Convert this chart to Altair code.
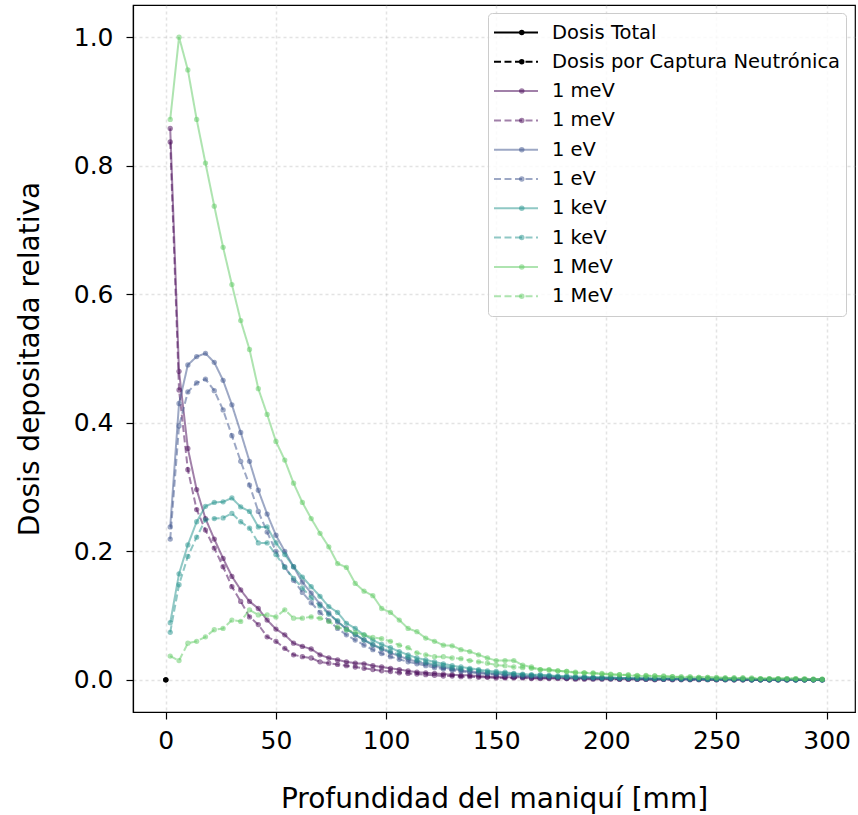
import altair as alt
import pandas as pd

depth_mm = [2, 6, 10, 14, 18, 22, 26, 30, 34, 38,
            42, 46, 50, 54, 58, 62, 66, 70, 74, 78,
            82, 86, 90, 94, 98, 102, 106, 110, 114, 118,
            122, 126, 130, 134, 138, 142, 146, 150, 154, 158,
            162, 166, 170, 174, 178, 182, 186, 190, 194, 198,
            202, 206, 210, 214, 218, 222, 226, 230, 234, 238,
            242, 246, 250, 254, 258, 262, 266, 270, 274, 278,
            282, 286, 290, 294, 298]

mev1_total = [0.858, 0.480, 0.360, 0.296, 0.251, 0.219, 0.189, 0.161, 0.140, 0.122,
              0.111, 0.093, 0.079, 0.070, 0.057, 0.052, 0.048, 0.039, 0.034, 0.031,
              0.028, 0.026, 0.025, 0.022, 0.020, 0.018, 0.016, 0.014, 0.012, 0.011,
              0.010, 0.009, 0.008, 0.007, 0.007, 0.006, 0.005, 0.005, 0.004, 0.004,
              0.004, 0.003, 0.003, 0.003, 0.003, 0.002, 0.002, 0.002, 0.002, 0.002,
              0.002, 0.001, 0.001, 0.001, 0.001, 0.001, 0.001, 0.001, 0.001, 0.001,
              0.001, 0.001, 0.000, 0.001, 0.000, 0.000, 0.000, 0.000, 0.000, 0.000,
              0.000, 0.000, 0.000, 0.000, 0.000]
mev1_capture = [0.837, 0.451, 0.327, 0.265, 0.233, 0.205, 0.176, 0.145, 0.122, 0.098,
                0.086, 0.067, 0.060, 0.049, 0.039, 0.036, 0.034, 0.028, 0.026, 0.024,
                0.022, 0.020, 0.018, 0.016, 0.014, 0.013, 0.011, 0.010, 0.009, 0.008,
                0.007, 0.006, 0.006, 0.005, 0.005, 0.004, 0.004, 0.003, 0.003, 0.003,
                0.003, 0.002, 0.002, 0.002, 0.002, 0.002, 0.001, 0.001, 0.001, 0.001,
                0.001, 0.001, 0.001, 0.001, 0.001, 0.000, 0.001, 0.000, 0.000, 0.000,
                0.000, 0.000, 0.000, 0.000, 0.000, 0.000, 0.000, 0.000, 0.000, 0.000,
                0.000, 0.000, 0.000, 0.000, 0.000]
ev1_total = [0.238, 0.430, 0.490, 0.503, 0.508, 0.494, 0.466, 0.428, 0.385, 0.340,
             0.295, 0.258, 0.225, 0.200, 0.176, 0.152, 0.135, 0.118, 0.104, 0.090,
             0.080, 0.070, 0.062, 0.054, 0.048, 0.042, 0.037, 0.032, 0.028, 0.025,
             0.022, 0.019, 0.017, 0.015, 0.013, 0.012, 0.010, 0.009, 0.008, 0.007,
             0.006, 0.006, 0.005, 0.005, 0.004, 0.004, 0.003, 0.003, 0.003, 0.003,
             0.002, 0.002, 0.002, 0.002, 0.002, 0.001, 0.001, 0.001, 0.001, 0.001,
             0.001, 0.001, 0.001, 0.001, 0.001, 0.001, 0.000, 0.000, 0.000, 0.000,
             0.000, 0.000, 0.000, 0.000, 0.000]
ev1_capture = [0.219, 0.395, 0.448, 0.462, 0.468, 0.450, 0.420, 0.380, 0.340, 0.303,
               0.262, 0.230, 0.200, 0.176, 0.155, 0.136, 0.120, 0.105, 0.092, 0.080,
               0.070, 0.062, 0.054, 0.047, 0.041, 0.036, 0.032, 0.028, 0.025, 0.022,
               0.019, 0.017, 0.015, 0.013, 0.012, 0.010, 0.009, 0.008, 0.007, 0.006,
               0.005, 0.005, 0.004, 0.004, 0.004, 0.003, 0.003, 0.003, 0.002, 0.002,
               0.002, 0.002, 0.002, 0.001, 0.001, 0.001, 0.001, 0.001, 0.001, 0.001,
               0.001, 0.001, 0.001, 0.000, 0.000, 0.000, 0.000, 0.000, 0.000, 0.000,
               0.000, 0.000, 0.000, 0.000, 0.000]
kev1_total = [0.089, 0.165, 0.210, 0.246, 0.270, 0.276, 0.277, 0.283, 0.269, 0.262,
              0.238, 0.238, 0.213, 0.195, 0.176, 0.160, 0.145, 0.130, 0.114, 0.105,
              0.088, 0.080, 0.070, 0.062, 0.055, 0.050, 0.044, 0.039, 0.034, 0.031,
              0.028, 0.025, 0.022, 0.020, 0.018, 0.016, 0.014, 0.013, 0.012, 0.010,
              0.009, 0.008, 0.008, 0.007, 0.006, 0.006, 0.005, 0.005, 0.004, 0.004,
              0.004, 0.003, 0.003, 0.003, 0.003, 0.002, 0.002, 0.002, 0.002, 0.002,
              0.002, 0.001, 0.001, 0.001, 0.001, 0.001, 0.001, 0.001, 0.001, 0.001,
              0.001, 0.000, 0.000, 0.000, 0.000]
kev1_capture = [0.074, 0.148, 0.192, 0.222, 0.249, 0.251, 0.252, 0.259, 0.246, 0.236,
                0.213, 0.213, 0.195, 0.175, 0.158, 0.143, 0.128, 0.115, 0.102, 0.092,
                0.078, 0.071, 0.062, 0.055, 0.049, 0.044, 0.039, 0.035, 0.030, 0.027,
                0.024, 0.022, 0.019, 0.017, 0.016, 0.014, 0.012, 0.011, 0.010, 0.009,
                0.008, 0.007, 0.007, 0.006, 0.005, 0.005, 0.004, 0.004, 0.004, 0.003,
                0.003, 0.003, 0.003, 0.002, 0.002, 0.002, 0.002, 0.002, 0.001, 0.001,
                0.001, 0.001, 0.001, 0.001, 0.001, 0.001, 0.000, 0.000, 0.000, 0.000,
                0.000, 0.000, 0.000, 0.000, 0.000]
MeV1_total = [0.872, 1.000, 0.949, 0.872, 0.804, 0.737, 0.673, 0.615, 0.559, 0.514,
              0.453, 0.413, 0.371, 0.342, 0.306, 0.276, 0.251, 0.228, 0.207, 0.181,
              0.175, 0.150, 0.138, 0.131, 0.111, 0.105, 0.093, 0.080, 0.075, 0.065,
              0.060, 0.054, 0.053, 0.047, 0.044, 0.039, 0.034, 0.030, 0.030, 0.030,
              0.023, 0.020, 0.016, 0.016, 0.014, 0.013, 0.011, 0.011, 0.010, 0.009,
              0.008, 0.008, 0.007, 0.006, 0.006, 0.006, 0.005, 0.005, 0.004, 0.004,
              0.004, 0.004, 0.003, 0.003, 0.003, 0.003, 0.002, 0.002, 0.002, 0.002,
              0.002, 0.002, 0.001, 0.001, 0.001]
MeV1_capture = [0.037, 0.030, 0.057, 0.060, 0.067, 0.078, 0.080, 0.093, 0.091, 0.109,
                0.101, 0.101, 0.098, 0.109, 0.096, 0.096, 0.098, 0.096, 0.091, 0.082,
                0.078, 0.074, 0.070, 0.066, 0.064, 0.060, 0.054, 0.050, 0.042, 0.039,
                0.036, 0.036, 0.034, 0.033, 0.030, 0.028, 0.026, 0.023, 0.022, 0.020,
                0.019, 0.018, 0.016, 0.015, 0.014, 0.013, 0.012, 0.011, 0.011, 0.010,
                0.009, 0.008, 0.008, 0.007, 0.007, 0.006, 0.006, 0.005, 0.005, 0.005,
                0.004, 0.004, 0.004, 0.003, 0.003, 0.003, 0.003, 0.002, 0.002, 0.002,
                0.002, 0.002, 0.002, 0.001, 0.001]

# legend-only reference entries (plotted at the origin)
reference_x = [0, 0]
reference_y = [0.0, 0.0]

keys = ["0 Dosis Total", "1 Dosis por Captura Neutrónica",
        "2 1 meV", "3 1 meV", "4 1 eV", "5 1 eV",
        "6 1 keV", "7 1 keV", "8 1 MeV", "9 1 MeV"]
colors = ["#000000", "#000000",
          "rgba(68,1,84,0.5)", "rgba(68,1,84,0.5)",
          "rgba(59,82,139,0.5)", "rgba(59,82,139,0.5)",
          "rgba(33,145,140,0.5)", "rgba(33,145,140,0.5)",
          "rgba(94,201,98,0.5)", "rgba(94,201,98,0.5)"]
dashes = [[1, 0], [7, 3.5]] * 5

series = [mev1_total, mev1_capture, ev1_total, ev1_capture,
          kev1_total, kev1_capture, MeV1_total, MeV1_capture]

rows = []
for k, xv, yv in zip(keys[:2], reference_x, reference_y):
    rows.append({"x": xv, "y": yv, "key": k})
for k, ys in zip(keys[2:], series):
    for xv, yv in zip(depth_mm, ys):
        rows.append({"x": xv, "y": yv, "key": k})
df = pd.DataFrame(rows)
# separate field (and domain) for the marker legend so it is not merged
df["marker_key"] = "m" + df["key"]
marker_keys = ["m" + k for k in keys]

LEG_X = 355
LEG_Y = 8
LEG_FONT = 19.5

line_legend = alt.Legend(
    title=None, orient="none", legendX=LEG_X, legendY=LEG_Y,
    labelExpr="slice(datum.label, 2)",
    symbolType="M-1,0L1,0", symbolSize=1936, symbolStrokeWidth=2,
    labelFontSize=LEG_FONT, labelFont="DejaVu Sans", labelColor="#000000",
    labelLimit=500, labelOffset=13, clipHeight=29, rowPadding=0.3,
    padding=5, strokeColor="#cccccc", fillColor="rgba(255,255,255,0.8)",
    cornerRadius=4, zindex=1,
)
# marker-dot overlay for the legend entries (labels come from line_legend)
dot_legend = alt.Legend(
    title=None, orient="none", legendX=LEG_X + 19, legendY=LEG_Y,
    labelExpr="''",
    symbolType="circle", symbolSize=30, symbolStrokeWidth=0,
    labelFontSize=LEG_FONT, labelFont="DejaVu Sans", labelOpacity=0,
    labelLimit=500, labelOffset=0, clipHeight=29, rowPadding=0.3,
    padding=5, zindex=2,
)

color_scale = alt.Scale(domain=keys, range=colors)
fill_scale = alt.Scale(domain=marker_keys, range=colors)
dash_scale = alt.Scale(domain=keys, range=dashes)

x_enc = alt.X("x:Q", scale=alt.Scale(domain=[-14.9, 312.9], nice=False, zero=False),
              axis=alt.Axis(values=[0, 50, 100, 150, 200, 250, 300],
                            title="Profundidad del maniquí [mm]"))
y_enc = alt.Y("y:Q", scale=alt.Scale(domain=[-0.05, 1.05], nice=False, zero=False),
              axis=alt.Axis(values=[0.0, 0.2, 0.4, 0.6, 0.8, 1.0], format=".1f",
                            title="Dosis depositada relativa"))

lines = alt.Chart(df).mark_line(strokeWidth=2).encode(
    x=x_enc, y=y_enc,
    color=alt.Color("key:N", scale=color_scale, legend=line_legend),
    strokeDash=alt.StrokeDash("key:N", scale=dash_scale, legend=line_legend),
)
points = alt.Chart(df).mark_point(filled=True, size=28, opacity=1).encode(
    x="x:Q", y="y:Q",
    fill=alt.Fill("marker_key:N", scale=fill_scale, legend=dot_legend),
)

chart = alt.layer(lines, points).properties(
    width=722, height=707,
    autosize=alt.AutoSizeParams(type="none"),
    padding={"left": 133, "top": 5, "right": 3, "bottom": 103},
).configure_view(
    stroke="#000000", strokeWidth=1.2
).configure_axis(
    domainColor="#000000", domainWidth=1.2,
    tickColor="#000000", tickWidth=1.2, tickSize=7,
    labelFont="DejaVu Sans", labelFontSize=25, labelColor="#000000",
    titleFont="DejaVu Sans", titleFontSize=28, titleColor="#000000",
    titleFontWeight="normal",
    gridColor="#b0b0b0", gridOpacity=0.35, gridWidth=1.5, gridDash=[3, 3],
).configure_axisY(
    labelPadding=13, titlePadding=29,
).configure_axisX(
    labelPadding=9, titlePadding=32,
)

chart.save("out.html", embed_options={"renderer": "svg", "actions": False})
